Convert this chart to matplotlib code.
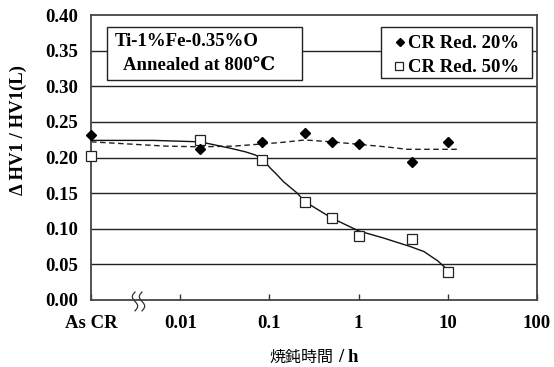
import numpy as np
import matplotlib
matplotlib.use('Agg')
import matplotlib.pyplot as plt
from matplotlib.patches import Rectangle

# ---- data ----
AS_CR = 0.001  # position used for the "As CR" state on the log axis
time_h = [AS_CR, 0.0167, 0.0833, 0.25, 0.5, 1, 4, 10]
red20 = [0.232, 0.212, 0.222, 0.234, 0.222, 0.219, 0.194, 0.222]
red50 = [0.2025, 0.225, 0.197, 0.137, 0.1156, 0.090, 0.0856, 0.039]

# fitted trend curves
fit20_t = [AS_CR, 0.0068, 0.0167, 0.04, 0.0833, 0.133, 0.25, 0.5, 1.0, 2.0, 3.5, 13.0]
fit20_v = [0.222, 0.216, 0.215, 0.216, 0.219, 0.221, 0.2246, 0.222, 0.2185, 0.215, 0.2115, 0.2115]
fit50_t = [AS_CR, 0.005, 0.0167, 0.0365, 0.0537, 0.0697, 0.0833, 0.1026, 0.117, 0.144,
           0.205, 0.25, 0.5, 1.0, 1.9, 3.8, 5.4, 7.7, 8.7, 10.5]
fit50_v = [0.224, 0.224, 0.222, 0.213, 0.208, 0.2035, 0.198, 0.185, 0.178, 0.166,
           0.150, 0.138, 0.115, 0.097, 0.087, 0.075, 0.068, 0.055, 0.049, 0.040]

series_labels = ['CR Red. 20%', 'CR Red. 50%']
xtick_pos = [AS_CR, 0.01, 0.1, 1, 10, 100]
xtick_lab = ['As CR', '0.01', '0.1', '1', '10', '100']
ytick_pos = [0.00, 0.05, 0.10, 0.15, 0.20, 0.25, 0.30, 0.35, 0.40]

serif = ['Liberation Serif', 'DejaVu Serif']
plt.rcParams['font.family'] = serif
plt.rcParams['font.weight'] = 'bold'

W, H = 554, 367
fig = plt.figure(figsize=(W / 100, H / 100), dpi=100)
AX_L, AX_R, AX_T, AX_B = 91, 537, 15, 300
ax = fig.add_axes([AX_L / W, 1 - AX_B / H, (AX_R - AX_L) / W, (AX_B - AX_T) / H])
ax.set_xscale('log')
ax.set_xlim(AS_CR, 100)
ax.set_ylim(0, 0.40)

def axfrac(px, py):
    return (px - AX_L) / (AX_R - AX_L), (AX_B - py) / (AX_B - AX_T)

for y in ytick_pos[1:-1]:
    ax.axhline(y, color='#222222', lw=1.0, zorder=1)

ax.plot(fit20_t, fit20_v, color='#222222', lw=1.0, ls=(0, (4, 2.5)), zorder=2)
ax.plot(fit50_t, fit50_v, color='#111111', lw=1.0, zorder=2)

ax.plot(time_h, red20, ls='none', marker='D', ms=5.3, color='black', zorder=4, clip_on=False)
ax.plot(time_h, red50, ls='none', marker='s', ms=7, mfc='white', mec='#222222', mew=0.9, zorder=3, clip_on=False)

ax.set_xticks(xtick_pos)
ax.set_xticklabels(xtick_lab)
ax.minorticks_off()
ax.set_yticks(ytick_pos)
ax.set_yticklabels([f'{v:.2f}' for v in ytick_pos])
ax.tick_params(axis='x', direction='in', length=4, width=1, pad=11, labelsize=13.5, color='#333333')
ax.tick_params(axis='y', direction='in', length=0, pad=9, labelsize=13.5)
for lab in ax.get_xticklabels() + ax.get_yticklabels():
    lab.set_fontweight('bold')

for s in ax.spines.values():
    s.set_color('#444444')
    s.set_linewidth(1.3)

# axis break mark on the x axis
t = np.linspace(0, 1, 30)
for x0 in [(135 - AX_L) / (AX_R - AX_L), (142 - AX_L) / (AX_R - AX_L)]:
    xs = x0 - 0.006 * np.sin(2 * np.pi * t)
    ys = 0.028 - t * 0.066
    ax.plot(xs, ys, transform=ax.transAxes, color='#333333', lw=0.9, clip_on=False, zorder=5)

# annotation box
bx, by = axfrac(107, 80)
ax.add_patch(Rectangle((bx, by), 195 / (AX_R - AX_L), 53 / (AX_B - AX_T),
                       transform=ax.transAxes, facecolor='white', edgecolor='#222222', lw=1.0, zorder=6))
ax.text(*axfrac(115, 41), 'Ti-1%Fe-0.35%O', transform=ax.transAxes,
        fontsize=13.5, fontweight='bold', va='center', ha='left', zorder=7)
ax.text(*axfrac(123, 65), 'Annealed at 800\u2103', transform=ax.transAxes,
        fontsize=13.5, fontweight='bold', va='center', ha='left', zorder=7, family=serif)

# legend box (drawn explicitly to match placement)
lx, ly = axfrac(381, 78)
ax.add_patch(Rectangle((lx, ly), 151 / (AX_R - AX_L), 51 / (AX_B - AX_T),
                       transform=ax.transAxes, facecolor='white', edgecolor='#222222', lw=1.0, zorder=8))
ax.plot(*axfrac(400, 42), ls='none', marker='D', ms=3.8, color='black',
        transform=ax.transAxes, zorder=9, clip_on=False)
ax.plot(*axfrac(399, 66), ls='none', marker='s', ms=5.5, mfc='white', mec='#222222', mew=0.9,
        transform=ax.transAxes, zorder=9, clip_on=False)
ax.text(*axfrac(408, 43), series_labels[0], transform=ax.transAxes, fontsize=13.5,
        fontweight='bold', va='center', ha='left', zorder=9)
ax.text(*axfrac(408, 68), series_labels[1], transform=ax.transAxes, fontsize=13.5,
        fontweight='bold', va='center', ha='left', zorder=9)

# y label
fig.text(18 / W, 1 - 130 / H, '\u0394 HV1 / HV1(L)', rotation=90, fontsize=13.5,
         fontweight='bold', ha='center', va='center', family=serif)

# x label: CJK part + latin part
fig.text(333 / W, 1 - 357 / H, '焼鈍時間', family=['Noto Sans CJK JP'], fontweight='normal',
         fontsize=11.5, ha='right', va='center')
fig.text(338 / W, 1 - 357 / H, '/ h', family=serif, fontweight='bold',
         fontsize=13.5, ha='left', va='center')

fig.savefig('out.png', dpi=100)
